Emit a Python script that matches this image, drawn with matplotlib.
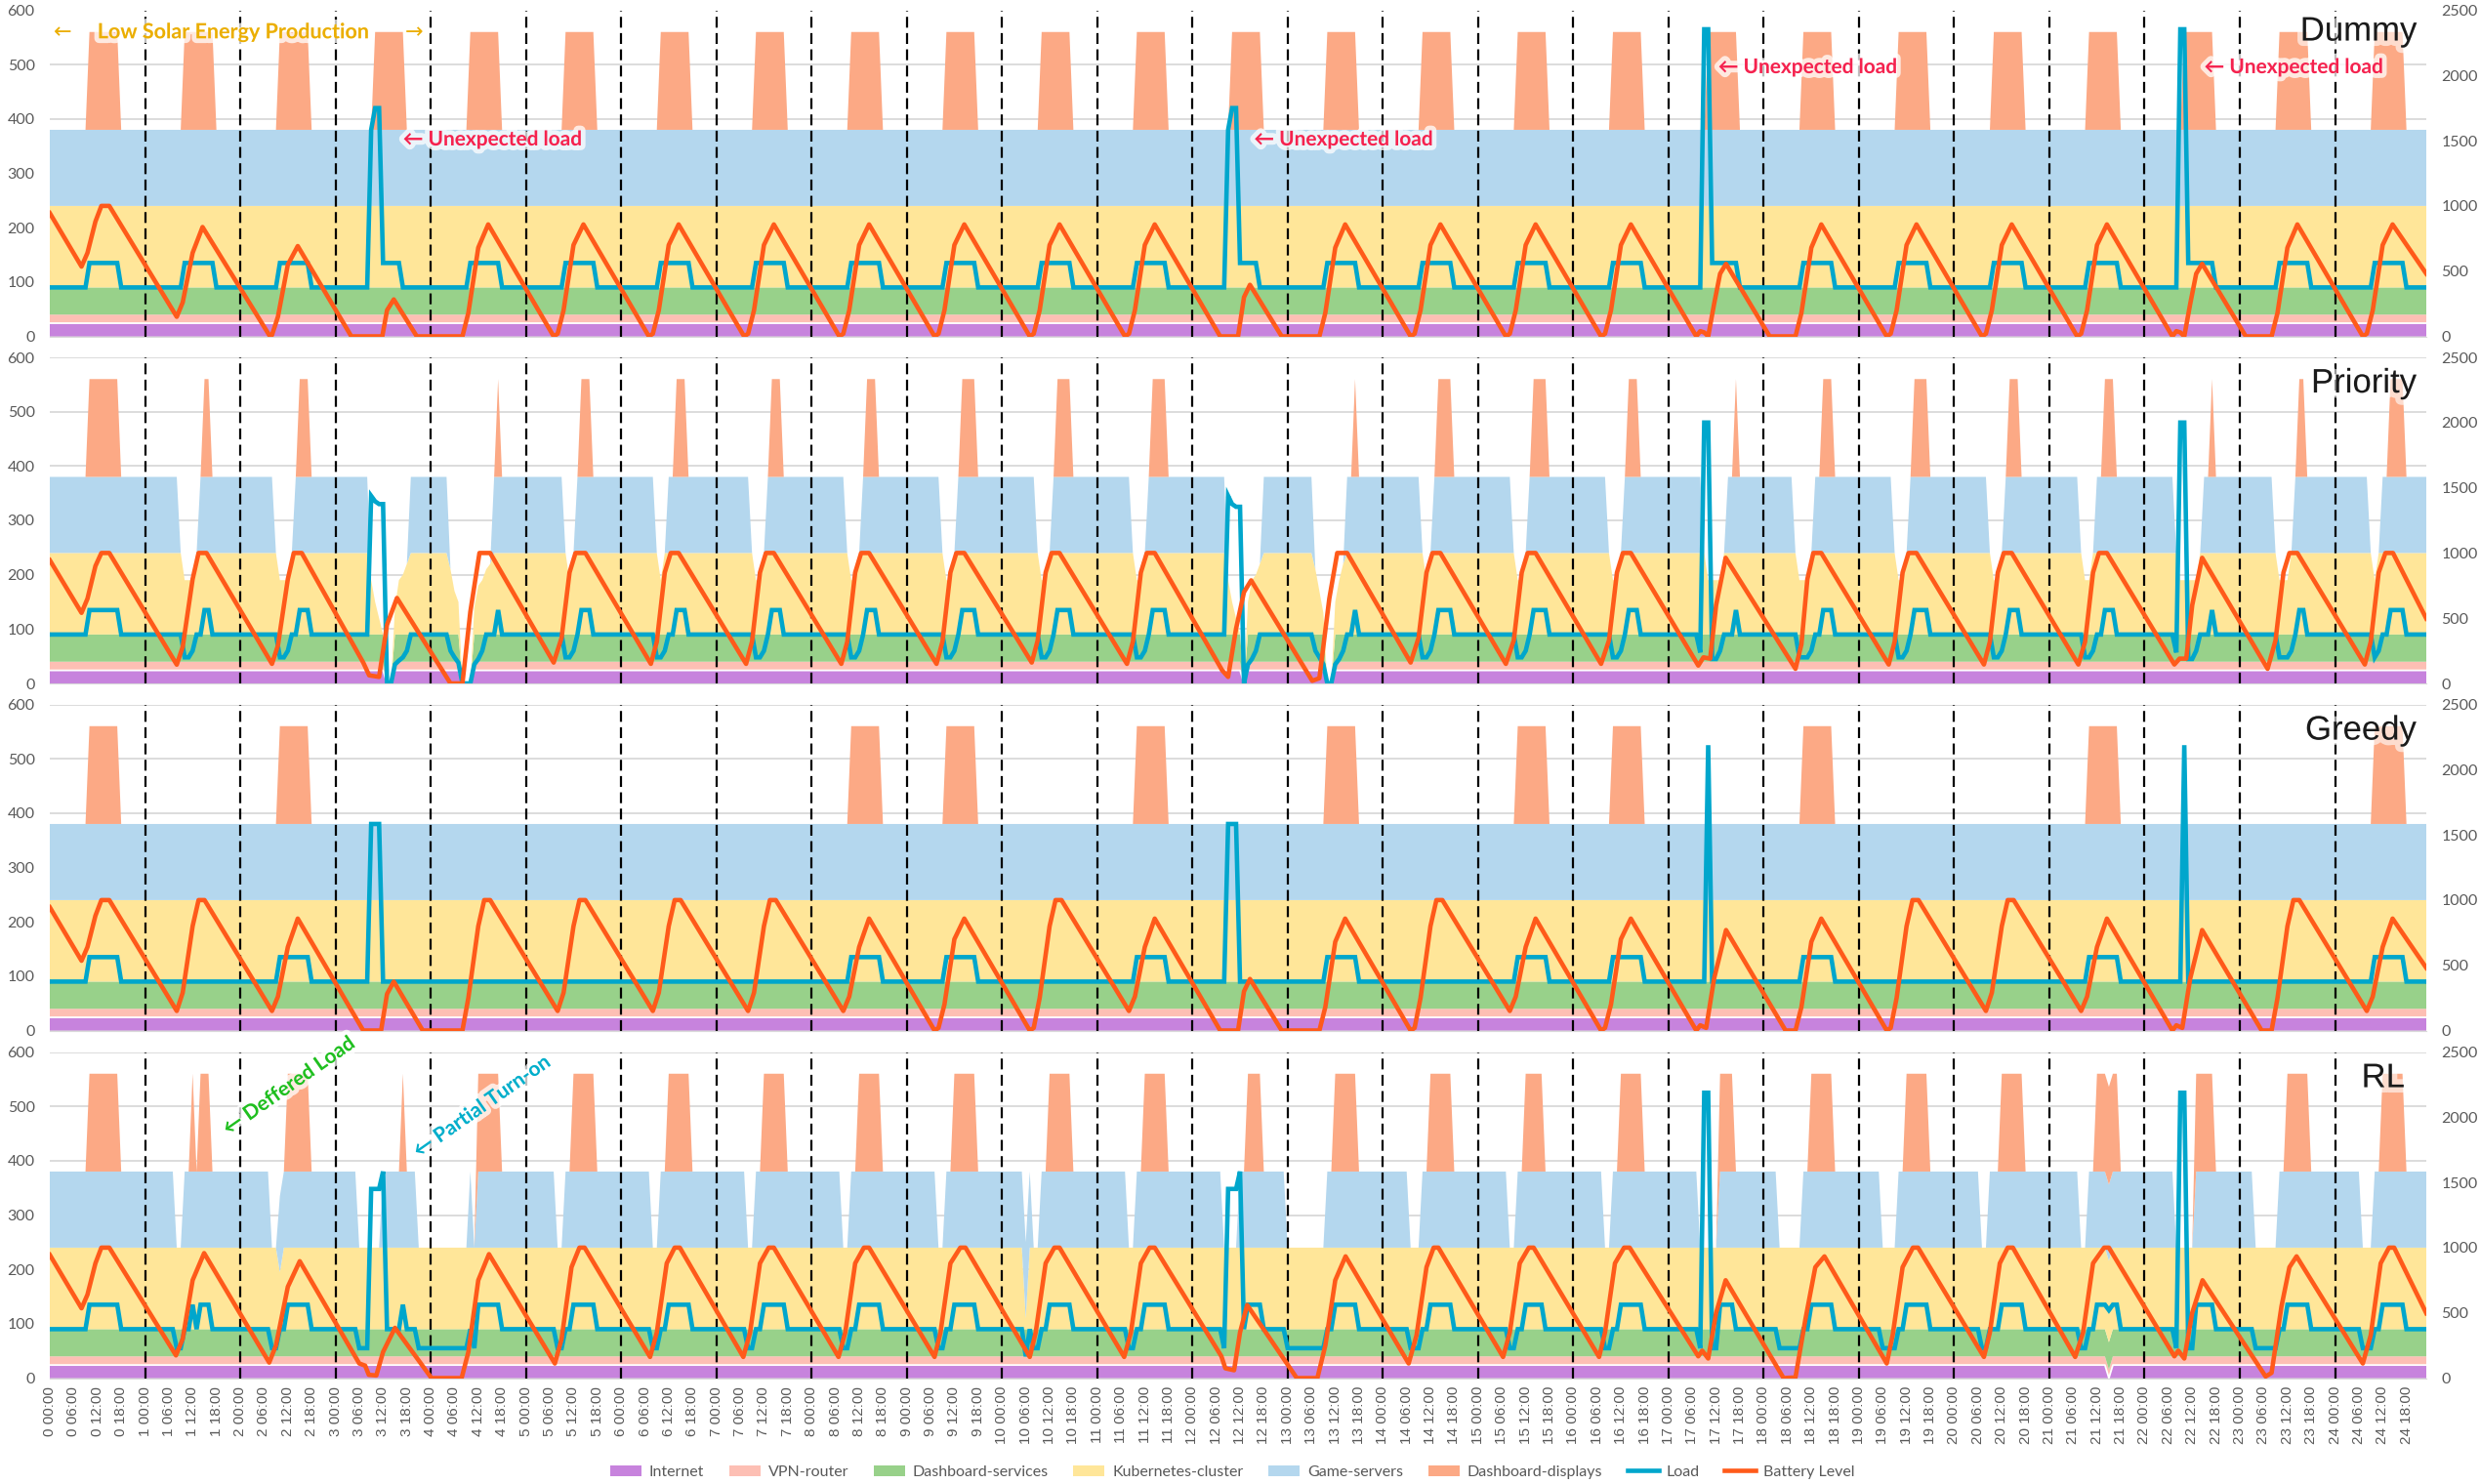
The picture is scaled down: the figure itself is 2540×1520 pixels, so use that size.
import numpy as np
import matplotlib

matplotlib.use("Agg")
import matplotlib.pyplot as plt
from matplotlib import patheffects as pe
from matplotlib.patches import Patch
from matplotlib.lines import Line2D

plt.rcParams["font.family"] = ["Lato", "DejaVu Sans"]

N_HOURS = 600

# nominal power of each service (stack height on the left axis)
INTERNET_W = 24
VPN_W = 16
DASH_SERVICES_W = 50
K8S_W = 150
GAME_W = 140
DISPLAYS_W = 180
BASE_LOAD = 90

SERIES_NAMES = ["Internet", "VPN-router", "Dashboard-services", "Kubernetes-cluster",
                "Game-servers", "Dashboard-displays", "Load", "Battery Level"]
PANEL_TITLES = ["Dummy", "Priority", "Greedy", "RL"]

# ---------------- Dummy ----------------
DUMMY_DISPLAY_DAYS = [0, 1, 2, 3, 4, 5, 6, 7, 8, 9, 10, 11, 12, 13, 14, 15, 16, 17, 18, 19,
                      20, 21, 22, 23, 24]
DUMMY_DISPLAYS = [(d, 10, 17, 180) for d in DUMMY_DISPLAY_DAYS]
DUMMY_LOAD = [(d, 10, 17, 135) for d in DUMMY_DISPLAY_DAYS] + [
    (3, 9, 9, 380), (3, 10, 11, 420), (3, 17, 17, 90),
    (12, 9, 9, 380), (12, 10, 11, 420), (12, 17, 17, 90),
    (17, 9, 10, 565), (22, 9, 10, 565),
]
DUMMY_BATTERY = [
    (0, 0, 945), (0, 8, 535), (0, 9.5, 640), (0, 11.5, 880), (0, 13, 1000), (0, 15, 1000),
    (1, 8, 150), (1, 9.5, 260), (1, 12, 640), (1, 14.5, 838),
    (2, 7.5, 0), (2, 8, 10), (2, 9.5, 150), (2, 12, 550), (2, 14.5, 692),
    (3, 4, 0), (3, 11.8, 0), (3, 13, 200), (3, 14.7, 283), (3, 20.5, 0),
    (4, 8, 0), (4, 9.5, 180), (4, 12, 680), (4, 14.5, 858),
    (5, 7, 0), (5, 8, 20), (5, 9.5, 200), (5, 12, 700), (5, 14.5, 858),
    (6, 7, 0), (6, 8, 20), (6, 9.5, 200), (6, 12, 700), (6, 14.5, 858),
    (7, 7, 0), (7, 8, 20), (7, 9.5, 200), (7, 12, 700), (7, 14.5, 858),
    (8, 7, 0), (8, 8, 20), (8, 9.5, 200), (8, 12, 700), (8, 14.5, 858),
    (9, 7, 0), (9, 8, 20), (9, 9.5, 200), (9, 12, 700), (9, 14.5, 858),
    (10, 7, 0), (10, 8, 20), (10, 9.5, 200), (10, 12, 700), (10, 14.5, 858),
    (11, 7, 0), (11, 8, 20), (11, 9.5, 200), (11, 12, 700), (11, 14.5, 858),
    (12, 7, 0), (12, 11.5, 0), (12, 13, 300), (12, 14.5, 395), (12, 22.5, 0),
    (13, 8, 0), (13, 9.5, 180), (13, 12, 680), (13, 14.5, 858),
    (14, 7, 0), (14, 8, 20), (14, 9.5, 200), (14, 12, 700), (14, 14.5, 858),
    (15, 7, 0), (15, 8, 20), (15, 9.5, 200), (15, 12, 700), (15, 14.5, 858),
    (16, 7, 0), (16, 8, 20), (16, 9.5, 200), (16, 12, 700), (16, 14.5, 858),
    (17, 7, 0), (17, 8, 40), (17, 9, 30), (17, 10, 0), (17, 11.5, 250), (17, 13, 480), (17, 14.5, 556),
    (18, 1.5, 0), (18, 8, 0), (18, 9.5, 180), (18, 12, 680), (18, 14.5, 858),
    (19, 7, 0), (19, 8, 20), (19, 9.5, 200), (19, 12, 700), (19, 14.5, 858),
    (20, 7, 0), (20, 8, 20), (20, 9.5, 200), (20, 12, 700), (20, 14.5, 858),
    (21, 7, 0), (21, 8, 20), (21, 9.5, 200), (21, 12, 700), (21, 14.5, 858),
    (22, 7, 0), (22, 8, 40), (22, 9, 30), (22, 10, 0), (22, 11.5, 250), (22, 13, 480), (22, 14.5, 556),
    (23, 1.5, 0), (23, 8, 0), (23, 9.5, 180), (23, 12, 680), (23, 14.5, 858),
    (24, 7, 0), (24, 8, 20), (24, 9.5, 200), (24, 12, 700), (24, 14.5, 858), (24, 23, 480),
]

# ---------------- Priority ----------------
PRIORITY_BASE_OFF = [(3, 13, 14, 0), (4, 8, 10, 0), (12, 13, 13, 0), (13, 10, 11, 0)]
PRIORITY_K8S = [
    (1, 10, 12, 100), (2, 10, 12, 100),
    (3, 9, 9, 100), (3, 10, 10, 60), (3, 11, 11, 30), (3, 12, 14, 0), (3, 15, 15, 50),
    (3, 16, 16, 100), (3, 17, 17, 110), (3, 18, 18, 130),
    (4, 5, 5, 120), (4, 6, 6, 80), (4, 7, 7, 60), (4, 8, 10, 0), (4, 11, 11, 50),
    (4, 12, 12, 90), (4, 13, 13, 100), (4, 14, 14, 120), (4, 15, 15, 130),
    (5, 11, 11, 100), (6, 10, 10, 100), (7, 10, 11, 100), (8, 10, 11, 100),
    (9, 10, 11, 100), (10, 10, 11, 100), (11, 10, 11, 100),
    (12, 9, 9, 100), (12, 10, 10, 60), (12, 11, 11, 30), (12, 12, 13, 0), (12, 14, 14, 60),
    (12, 15, 15, 100), (12, 16, 16, 110), (12, 17, 17, 130),
    (13, 7, 7, 120), (13, 8, 8, 80), (13, 9, 9, 40), (13, 10, 11, 0), (13, 12, 12, 60),
    (13, 13, 13, 100), (13, 14, 14, 130),
    (14, 11, 11, 100), (15, 10, 11, 100), (16, 10, 11, 100), (17, 10, 13, 100),
    (18, 9, 11, 100), (19, 10, 11, 100), (20, 10, 11, 100), (21, 9, 10, 100),
    (22, 9, 13, 100), (23, 10, 12, 100), (24, 10, 10, 100),
]
PRIORITY_GAME = [
    (1, 9, 13, 0), (2, 9, 13, 0), (3, 9, 18, 0), (4, 5, 15, 0), (5, 10, 12, 0), (6, 9, 11, 0),
    (7, 9, 12, 0), (8, 9, 12, 0), (9, 9, 12, 0), (10, 9, 12, 0), (11, 9, 12, 0), (12, 9, 17, 0),
    (13, 7, 14, 0), (14, 10, 12, 0), (15, 9, 12, 0), (16, 9, 12, 0), (17, 9, 14, 0), (18, 8, 12, 0),
    (19, 9, 12, 0), (20, 9, 12, 0), (21, 8, 11, 0), (22, 8, 14, 0), (23, 9, 13, 0), (24, 9, 11, 0),
]
PRIORITY_DISPLAYS = [
    (0, 10, 17, 180), (1, 15, 16, 180), (2, 15, 17, 180), (4, 17, 17, 180), (5, 14, 16, 180),
    (6, 14, 16, 180), (7, 14, 16, 180), (8, 14, 16, 180), (9, 14, 17, 180), (10, 14, 17, 180),
    (11, 14, 17, 180), (13, 17, 17, 180), (14, 14, 17, 180), (15, 14, 17, 180), (16, 14, 16, 180),
    (17, 17, 17, 180), (18, 15, 17, 180), (19, 14, 17, 180), (20, 14, 16, 180), (21, 14, 16, 180),
    (22, 17, 17, 180), (23, 15, 16, 180), (24, 14, 17, 180),
]
PRIORITY_LOAD = [
    (0, 10, 17, 135),
    (1, 10, 11, 48), (1, 12, 12, 60), (1, 15, 16, 135),
    (2, 10, 11, 48), (2, 12, 12, 60), (2, 15, 17, 135),
    (3, 9, 9, 345), (3, 10, 10, 335), (3, 11, 12, 330), (3, 13, 14, 0), (3, 15, 15, 35),
    (3, 16, 16, 42), (3, 17, 17, 48), (3, 18, 18, 60),
    (4, 5, 5, 60), (4, 6, 6, 48), (4, 7, 7, 38), (4, 8, 10, 0), (4, 11, 11, 35), (4, 12, 12, 45),
    (4, 13, 13, 60), (4, 17, 17, 135),
    (5, 10, 11, 48), (5, 12, 12, 60), (5, 14, 16, 135),
    (6, 9, 10, 48), (6, 11, 11, 60), (6, 14, 16, 135),
    (7, 10, 11, 48), (7, 12, 12, 60), (7, 14, 16, 135),
    (8, 10, 11, 48), (8, 12, 12, 60), (8, 14, 16, 135),
    (9, 10, 11, 48), (9, 12, 12, 60), (9, 14, 17, 135),
    (10, 10, 11, 48), (10, 12, 12, 60), (10, 14, 17, 135),
    (11, 10, 11, 48), (11, 12, 12, 60), (11, 14, 17, 135),
    (12, 9, 9, 345), (12, 10, 10, 330), (12, 11, 12, 325), (12, 13, 13, 0), (12, 14, 14, 35),
    (12, 15, 15, 45), (12, 16, 16, 60),
    (13, 7, 7, 60), (13, 8, 8, 48), (13, 9, 9, 35), (13, 10, 11, 0), (13, 12, 12, 35),
    (13, 13, 13, 45), (13, 14, 14, 60), (13, 17, 17, 135),
    (14, 10, 11, 48), (14, 12, 12, 60), (14, 14, 17, 135),
    (15, 10, 11, 48), (15, 12, 12, 60), (15, 14, 17, 135),
    (16, 10, 11, 48), (16, 12, 12, 60), (16, 14, 16, 135),
    (17, 8, 8, 57), (17, 9, 10, 480), (17, 11, 12, 45), (17, 13, 13, 60), (17, 17, 17, 135),
    (18, 9, 11, 48), (18, 12, 12, 60), (18, 15, 17, 135),
    (19, 10, 11, 48), (19, 12, 12, 60), (19, 14, 17, 135),
    (20, 10, 11, 48), (20, 12, 12, 60), (20, 14, 16, 135),
    (21, 9, 10, 48), (21, 11, 11, 60), (21, 14, 16, 135),
    (22, 8, 8, 57), (22, 9, 10, 480), (22, 11, 12, 45), (22, 13, 13, 60), (22, 17, 17, 135),
    (23, 10, 12, 48), (23, 13, 13, 60), (23, 15, 16, 135),
    (24, 10, 10, 48), (24, 11, 11, 60), (24, 14, 17, 135),
]
PRIORITY_BATTERY = [
    (0, 0, 945), (0, 8, 541), (0, 9.5, 650), (0, 11.5, 900), (0, 13, 1000), (0, 15, 1000),
    (1, 8, 144), (1, 9.5, 280), (1, 12, 800), (1, 13.5, 1000), (1, 15.5, 1000),
    (2, 8, 150), (2, 9.5, 290), (2, 12, 800), (2, 13.5, 1000), (2, 15.5, 1000),
    (3, 7, 160), (3, 8.5, 62), (3, 11, 50), (3, 13, 450), (3, 15.5, 655),
    (4, 5, 0), (4, 8, 0), (4, 10, 550), (4, 12.3, 1000), (4, 15, 1000),
    (5, 7, 160), (5, 9, 350), (5, 11, 850), (5, 12.5, 1000), (5, 15, 1000),
    (6, 7.5, 150), (6, 9, 320), (6, 11, 850), (6, 12.5, 1000), (6, 14.5, 1000),
    (7, 7.5, 150), (7, 9, 320), (7, 11, 850), (7, 12.5, 1000), (7, 14.5, 1000),
    (8, 7.5, 150), (8, 9, 320), (8, 11, 850), (8, 12.5, 1000), (8, 14.5, 1000),
    (9, 7.5, 150), (9, 9, 320), (9, 11, 850), (9, 12.5, 1000), (9, 14.5, 1000),
    (10, 7.5, 160), (10, 9, 330), (10, 11, 850), (10, 12.5, 1000), (10, 14.5, 1000),
    (11, 7.5, 150), (11, 9, 320), (11, 11, 850), (11, 12.5, 1000), (11, 14.5, 1000),
    (12, 7.5, 100), (12, 9, 50), (12, 11, 420), (12, 13, 700), (12, 14.8, 790),
    (13, 6.2, 20), (13, 8, 40), (13, 10.5, 650), (13, 12.5, 1000), (13, 15, 1000),
    (14, 7, 160), (14, 9, 350), (14, 11, 850), (14, 12.5, 1000), (14, 14.5, 1000),
    (15, 7, 150), (15, 9, 330), (15, 11, 850), (15, 12.5, 1000), (15, 14.5, 1000),
    (16, 7, 150), (16, 9, 330), (16, 11, 850), (16, 12.5, 1000), (16, 14.5, 1000),
    (17, 7.5, 137), (17, 8.8, 200), (17, 10.5, 190), (17, 12, 600), (17, 14.4, 963),
    (18, 8, 112), (18, 9.5, 300), (18, 11, 800), (18, 12.5, 1000), (18, 14.5, 1000),
    (19, 7.5, 145), (19, 9, 320), (19, 11, 850), (19, 12.5, 1000), (19, 14.5, 1000),
    (20, 7.5, 145), (20, 9, 320), (20, 11, 850), (20, 12.5, 1000), (20, 14.5, 1000),
    (21, 7.3, 145), (21, 9, 320), (21, 11, 850), (21, 12.5, 1000), (21, 14.5, 1000),
    (22, 7.5, 145), (22, 8.8, 190), (22, 10.5, 190), (22, 12, 600), (22, 14.5, 963),
    (23, 7, 112), (23, 9, 330), (23, 11, 850), (23, 12.5, 1000), (23, 14.5, 1000),
    (24, 7.5, 145), (24, 9, 320), (24, 11, 850), (24, 12.7, 1000), (24, 14.6, 1000), (24, 23, 497),
]

# ---------------- Greedy ----------------
GREEDY_DISPLAY_DAYS = [0, 2, 8, 9, 11, 13, 15, 16, 18, 21, 24]
GREEDY_DISPLAYS = [(d, 10, 17, 180) for d in GREEDY_DISPLAY_DAYS]
GREEDY_LOAD = [(d, 10, 17, 135) for d in GREEDY_DISPLAY_DAYS] + [
    (3, 9, 11, 380), (12, 9, 11, 380), (17, 10, 10, 525), (22, 10, 10, 525),
]
GREEDY_BATTERY = [
    (0, 0, 945), (0, 8, 535), (0, 9.5, 640), (0, 11.5, 880), (0, 13, 1000), (0, 15, 1000),
    (1, 8, 150), (1, 9.5, 290), (1, 12, 800), (1, 13.5, 1000), (1, 15, 1000),
    (2, 8, 150), (2, 9.5, 260), (2, 12, 640), (2, 14.5, 858),
    (3, 7, 0), (3, 11.5, 0), (3, 13, 280), (3, 14.7, 375), (3, 22, 0),
    (4, 8, 0), (4, 9.5, 250), (4, 12, 800), (4, 13.5, 1000), (4, 15, 1000),
    (5, 8, 150), (5, 9.5, 290), (5, 12, 800), (5, 13.5, 1000), (5, 15, 1000),
    (6, 8, 150), (6, 9.5, 290), (6, 12, 800), (6, 13.5, 1000), (6, 15, 1000),
    (7, 8, 150), (7, 9.5, 290), (7, 12, 800), (7, 13.5, 1000), (7, 15, 1000),
    (8, 8, 150), (8, 9.5, 260), (8, 12, 640), (8, 14.5, 858),
    (9, 7, 0), (9, 8, 20), (9, 9.5, 200), (9, 12, 700), (9, 14.5, 858),
    (10, 7, 0), (10, 8, 20), (10, 9.5, 250), (10, 12, 800), (10, 13.5, 1000), (10, 15, 1000),
    (11, 8, 150), (11, 9.5, 260), (11, 12, 640), (11, 14.5, 858),
    (12, 7, 0), (12, 11.5, 0), (12, 13, 300), (12, 14.5, 395), (12, 22.5, 0),
    (13, 8, 0), (13, 9.5, 180), (13, 12, 680), (13, 14.5, 858),
    (14, 7, 0), (14, 8, 20), (14, 9.5, 250), (14, 12, 800), (14, 13.5, 1000), (14, 15, 1000),
    (15, 8, 150), (15, 9.5, 260), (15, 12, 640), (15, 14.5, 858),
    (16, 7, 0), (16, 8, 20), (16, 9.5, 200), (16, 12, 700), (16, 14.5, 858),
    (17, 7, 0), (17, 8, 40), (17, 9.5, 20), (17, 11.5, 400), (17, 14.5, 770),
    (18, 5.5, 0), (18, 8, 0), (18, 9.5, 180), (18, 12, 680), (18, 14.5, 858),
    (19, 7, 0), (19, 8, 20), (19, 9.5, 250), (19, 12, 800), (19, 13.5, 1000), (19, 15, 1000),
    (20, 8, 150), (20, 9.5, 290), (20, 12, 800), (20, 13.5, 1000), (20, 15, 1000),
    (21, 8, 150), (21, 9.5, 260), (21, 12, 640), (21, 14.5, 858),
    (22, 7, 0), (22, 8, 40), (22, 9.5, 20), (22, 11.5, 400), (22, 14.5, 770),
    (23, 5.5, 0), (23, 8, 0), (23, 9.5, 250), (23, 12, 800), (23, 13.5, 1000), (23, 15, 1000),
    (24, 8, 150), (24, 9.5, 260), (24, 12, 640), (24, 14.5, 858), (24, 23, 480),
]

# ---------------- RL ----------------
RL_INTERNET = [(21, 15, 15, 0)]
RL_K8S = [(2, 10, 10, 105), (10, 6, 6, 20)]
RL_GAME = [
    (1, 8, 9, 0), (2, 8, 9, 0), (3, 6, 11, 0), (3, 21, 23, 0), (4, 0, 9, 0), (4, 11, 11, 0),
    (5, 8, 9, 0), (6, 8, 9, 0), (7, 8, 9, 0), (8, 8, 9, 0), (9, 8, 9, 0), (10, 8, 9, 0),
    (11, 8, 9, 0), (12, 8, 11, 0), (13, 0, 9, 0), (14, 7, 9, 0), (15, 8, 9, 0), (16, 8, 9, 0),
    (17, 8, 12, 0), (18, 4, 9, 0), (19, 6, 9, 0), (20, 7, 8, 0), (21, 8, 9, 0), (22, 8, 12, 0),
    (23, 4, 9, 0), (24, 7, 9, 0),
]
RL_DISPLAYS = [
    (0, 10, 17, 180), (1, 12, 12, 180), (1, 14, 16, 180), (2, 12, 17, 180), (3, 17, 17, 180),
    (4, 12, 17, 180), (5, 12, 17, 180), (6, 12, 17, 180), (7, 12, 17, 180), (8, 12, 17, 180),
    (9, 12, 17, 180), (10, 12, 17, 180), (11, 12, 17, 180), (12, 14, 17, 180), (13, 12, 17, 180),
    (14, 12, 17, 180), (15, 12, 16, 180), (16, 12, 17, 180), (17, 13, 16, 180), (18, 12, 17, 180),
    (19, 12, 17, 180), (20, 12, 17, 180), (21, 12, 17, 180), (22, 13, 17, 180), (23, 12, 17, 180),
    (24, 12, 17, 180),
]
RL_LOAD = [
    (0, 10, 17, 135),
    (1, 8, 9, 55), (1, 12, 12, 135), (1, 14, 16, 135),
    (2, 8, 9, 55), (2, 12, 17, 135),
    (3, 6, 8, 55), (3, 9, 11, 348), (3, 12, 12, 380), (3, 17, 17, 135), (3, 21, 23, 55),
    (4, 0, 9, 55), (4, 11, 11, 55), (4, 12, 17, 135),
    (5, 8, 9, 55), (5, 12, 17, 135),
    (6, 8, 9, 55), (6, 12, 17, 135),
    (7, 8, 9, 55), (7, 12, 17, 135),
    (8, 8, 9, 55), (8, 12, 17, 135),
    (9, 8, 9, 55), (9, 12, 17, 135),
    (10, 6, 6, 40), (10, 8, 9, 55), (10, 12, 17, 135),
    (11, 8, 9, 55), (11, 12, 17, 135),
    (12, 8, 8, 55), (12, 9, 11, 348), (12, 12, 12, 380), (12, 14, 17, 135),
    (13, 0, 9, 55), (13, 12, 17, 135),
    (14, 7, 9, 55), (14, 12, 17, 135),
    (15, 8, 9, 55), (15, 12, 16, 135),
    (16, 8, 9, 55), (16, 12, 17, 135),
    (17, 8, 8, 55), (17, 9, 10, 525), (17, 11, 12, 55), (17, 13, 16, 135),
    (18, 4, 9, 55), (18, 12, 17, 135),
    (19, 6, 9, 55), (19, 12, 17, 135),
    (20, 7, 8, 55), (20, 12, 17, 135),
    (21, 8, 9, 55), (21, 12, 17, 135), (21, 15, 15, 125),
    (22, 8, 8, 55), (22, 9, 10, 525), (22, 11, 12, 55), (22, 13, 17, 135),
    (23, 4, 9, 55), (23, 12, 17, 135),
    (24, 7, 9, 55), (24, 12, 17, 135),
]
RL_BATTERY = [
    (0, 0, 945), (0, 8, 535), (0, 9.5, 640), (0, 11.5, 880), (0, 13, 1000), (0, 15, 1000),
    (1, 7.8, 174), (1, 9.5, 300), (1, 12, 750), (1, 14.9, 958),
    (2, 7.3, 119), (2, 9, 250), (2, 12, 700), (2, 15, 896),
    (3, 6, 112), (3, 7.5, 95), (3, 8.4, 25), (3, 10.3, 20), (3, 12, 200), (3, 15, 385),
    (4, 0.2, 0), (4, 7.8, 0), (4, 9.5, 200), (4, 12, 750), (4, 14.7, 950),
    (5, 7.3, 112), (5, 9, 300), (5, 11.5, 850), (5, 13.5, 1000), (5, 14.8, 1000),
    (6, 7.3, 162), (6, 9, 350), (6, 11.5, 880), (6, 13.5, 1000), (6, 14.8, 1000),
    (7, 6.8, 162), (7, 8.5, 350), (7, 11, 880), (7, 13.2, 1000), (7, 14.5, 1000),
    (8, 6.8, 162), (8, 8.5, 350), (8, 11, 880), (8, 13.2, 1000), (8, 14.5, 1000),
    (9, 7, 162), (9, 8.5, 350), (9, 11, 880), (9, 13.5, 1000), (9, 14.8, 1000),
    (10, 7, 162), (10, 8.5, 350), (10, 11, 880), (10, 13.2, 1000), (10, 14.5, 1000),
    (11, 6.8, 162), (11, 8.5, 350), (11, 11, 880), (11, 13.2, 1000), (11, 14.5, 1000),
    (12, 7.3, 167), (12, 8.3, 75), (12, 10.5, 60), (12, 12, 350), (12, 13.8, 560),
    (13, 2.3, 0), (13, 7.5, 0), (13, 9.5, 250), (13, 12, 750), (13, 14.6, 933),
    (14, 6.5, 112), (14, 8.5, 330), (14, 11, 850), (14, 12.8, 1000), (14, 14, 1000),
    (15, 6.3, 162), (15, 8, 350), (15, 10.5, 880), (15, 12.8, 1000), (15, 14, 1000),
    (16, 6.5, 162), (16, 8, 350), (16, 10.5, 880), (16, 12.8, 1000), (16, 14.2, 1000),
    (17, 7.5, 167), (17, 8.5, 210), (17, 10, 150), (17, 12, 500), (17, 14.4, 750),
    (18, 5, 0), (18, 8, 5), (18, 10.5, 450), (18, 13, 850), (18, 15.3, 933),
    (19, 7, 112), (19, 8.5, 330), (19, 11, 850), (19, 13.6, 1000), (19, 14.9, 1000),
    (20, 7.5, 162), (20, 9, 350), (20, 11.5, 880), (20, 13.5, 1000), (20, 14.8, 1000),
    (21, 6.5, 162), (21, 8.5, 350), (21, 11, 880), (21, 13.8, 1000), (21, 15, 1000),
    (22, 7.5, 167), (22, 8.5, 210), (22, 10, 150), (22, 12, 500), (22, 14.6, 750),
    (23, 6.5, 12), (23, 8, 40), (23, 10.5, 550), (23, 12.5, 850), (23, 14.3, 933),
    (24, 7, 112), (24, 9, 330), (24, 11.5, 880), (24, 13.6, 1000), (24, 14.9, 1000), (24, 23, 497),
]

COLORS = ["#C783DD", "#FDBFB4", "#98D18A", "#FFE699", "#B4D7EE", "#FCA985"]
LOAD_COLOR = "#00A6CC"
BATTERY_COLOR = "#FF5A1A"
GRID_COLOR = "#D9D9D9"
TICK_COLOR = "#595959"


def hourly(default, spans):
    values = np.full(N_HOURS, float(default))
    for day, start, end, value in spans:
        values[day * 24 + start: day * 24 + end + 1] = value
    return values


def panel_series(base_off=(), internet=(), k8s=(), game=(), displays=(), load=()):
    layers = [
        hourly(INTERNET_W, list(base_off) + list(internet)),
        hourly(VPN_W, base_off),
        hourly(DASH_SERVICES_W, base_off),
        hourly(K8S_W, k8s),
        hourly(GAME_W, game),
        hourly(0, displays),
    ]
    return layers, hourly(BASE_LOAD, load)


PANELS = [
    (panel_series(displays=DUMMY_DISPLAYS, load=DUMMY_LOAD), DUMMY_BATTERY),
    (panel_series(base_off=PRIORITY_BASE_OFF, k8s=PRIORITY_K8S, game=PRIORITY_GAME,
                  displays=PRIORITY_DISPLAYS, load=PRIORITY_LOAD), PRIORITY_BATTERY),
    (panel_series(displays=GREEDY_DISPLAYS, load=GREEDY_LOAD), GREEDY_BATTERY),
    (panel_series(internet=RL_INTERNET, k8s=RL_K8S, game=RL_GAME,
                  displays=RL_DISPLAYS, load=RL_LOAD), RL_BATTERY),
]

W, H = 2540, 1520
fig = plt.figure(figsize=(W / 100, H / 100), dpi=100)
x = np.arange(N_HOURS)
panel_tops = [10.5, 366, 721.5, 1077.5]
panel_h = 334
ax_left, ax_right = 51, 2485

axes = []
for i, (((layers, load), battery), top) in enumerate(zip(PANELS, panel_tops)):
    ax = fig.add_axes([ax_left / W, 1 - (top + panel_h) / H, (ax_right - ax_left) / W, panel_h / H])
    axes.append(ax)
    ax.stackplot(x, *layers, colors=COLORS, linewidth=0, zorder=2)
    ax.plot(x, layers[0], color="white", lw=1.3, zorder=2.5)
    ax.plot(x, load, color=LOAD_COLOR, lw=3.3, zorder=4, solid_joinstyle="miter")
    for d in range(1, 25):
        ax.axvline(d * 24, color="black", lw=1.6, ls=(0, (5, 2.5)), zorder=3)
    ax.set_xlim(0, N_HOURS - 1)
    ax.set_ylim(0, 600)
    ax.set_yticks(range(0, 601, 100))
    ax.grid(axis="y", color=GRID_COLOR, lw=1.3, zorder=0)
    ax.set_axisbelow(True)
    for s in ["top", "left", "right"]:
        ax.spines[s].set_visible(False)
    ax.spines["bottom"].set_color(GRID_COLOR)
    ax.tick_params(axis="y", length=0, pad=11, labelsize=11.5, labelcolor=TICK_COLOR)
    ax.tick_params(axis="x", length=0)
    if i < 3:
        ax.set_xticks([])
    else:
        ticks = list(range(0, N_HOURS, 6))
        ax.set_xticks(ticks)
        ax.set_xticklabels([f"{t // 24} {t % 24:02d}:00" for t in ticks], rotation=90,
                           fontsize=11, color=TICK_COLOR, family=["Liberation Sans", "DejaVu Sans"])
        ax.tick_params(axis="x", pad=6)

    ax2 = ax.twinx()
    bx = [d * 24 + h for d, h, v in battery]
    by = [v for d, h, v in battery]
    ax2.plot(bx, by, color=BATTERY_COLOR, lw=3.3, zorder=5)
    ax2.set_ylim(0, 2500)
    ax2.set_yticks(range(0, 2501, 500))
    ax2.set_xlim(0, N_HOURS - 1)
    for s in ["top", "left", "right", "bottom"]:
        ax2.spines[s].set_visible(False)
    ax2.tick_params(axis="y", length=0, pad=11, labelsize=11.5, labelcolor=TICK_COLOR)

    ax2.text(0.996 if i < 3 else 0.991, 0.985 if i == 0 else 0.97, PANEL_TITLES[i],
             transform=ax2.transAxes, ha="right", va="top", fontsize=25, color="#1a1a1a",
             family=["Liberation Sans", "DejaVu Sans"], zorder=10,
             path_effects=[pe.withStroke(linewidth=8, foreground="white", alpha=0.6)])

glow = [pe.withStroke(linewidth=7, foreground="white", alpha=0.75)]
gold = "#EBAE00"
red = "#F5224E"
ax0 = axes[0]
ax0.text(1, 560, "\u2190", color=gold, fontsize=16, va="center", ha="left", zorder=10,
         family=["DejaVu Sans"])
ax0.text(12, 560, "Low Solar Energy Production", color=gold, fontsize=15.5, va="center",
         ha="left", zorder=10, path_effects=glow, fontweight="bold")
ax0.text(89.5, 560, "\u2192", color=gold, fontsize=16, va="center", ha="left", zorder=10,
         family=["DejaVu Sans"])
for hx, vy in [(89, 362), (303.5, 362), (420.5, 495), (543, 495)]:
    ax0.text(hx, vy, "\u2190 Unexpected load", color=red, fontsize=15, va="center", ha="left",
             zorder=10, path_effects=glow, fontweight="bold")

ax3 = axes[3]
ax3.text(45, 446, "\u2190 Deffered Load", color="#1FBF1F", fontsize=15, rotation=35,
         rotation_mode="anchor", ha="left", va="baseline", zorder=10, path_effects=glow,
         fontweight="bold")
ax3.text(93, 405, "\u2190 Partial Turn-on", color="#00AECB", fontsize=15, rotation=35,
         rotation_mode="anchor", ha="left", va="baseline", zorder=10, path_effects=glow,
         fontweight="bold")

handles = [Patch(facecolor=c, edgecolor="none") for c in COLORS] + [
    Line2D([0], [0], color=LOAD_COLOR, lw=3.3), Line2D([0], [0], color=BATTERY_COLOR, lw=3.3)]
fig.legend(handles, SERIES_NAMES, loc="center", bbox_to_anchor=(0.497, 0.0079), ncol=8,
           frameon=False, fontsize=11.5, handlelength=2.0, handleheight=0.7, columnspacing=1.6,
           handletextpad=0.5, labelcolor=TICK_COLOR)

fig.savefig("out.png", dpi=100)
